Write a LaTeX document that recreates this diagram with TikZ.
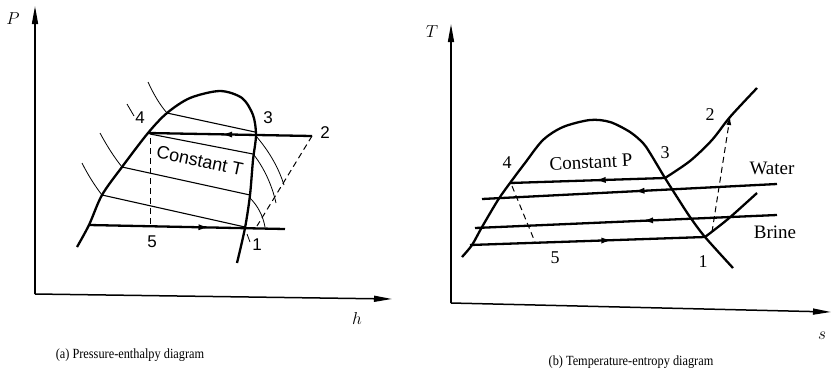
\documentclass[tikz,border=0pt]{standalone}
\usepackage{fontspec}
\setmainfont{Liberation Serif}
\newfontfamily\lsans{Liberation Sans}
\usetikzlibrary{arrows.meta,decorations.markings}
\begin{document}
\begin{tikzpicture}[x=1pt,y=-1pt,
  heavy/.style={line width=2.3pt},
  iso/.style={line width=1.1pt},
  fine/.style={line width=0.8pt},
  axisline/.style={line width=1.5pt,-{Triangle[length=18pt,width=6pt]}},
  dashln/.style={line width=1pt,dash pattern=on 6pt off 4pt},
  midarrow/.style={postaction={decorate},decoration={markings,mark=at position #1 with {\arrow{Latex[length=12pt,width=6pt]}}}},
  lbl/.style={font=\fontsize{18}{18}\selectfont,inner sep=0pt},
  captxt/.style={font=\fontsize{14}{15}\selectfont,inner sep=0pt,xscale=0.88,transform shape}]
\useasboundingbox (0,0) rectangle (833,384);

% ---------------- (a) P-h diagram ----------------
\coordinate (LO) at (35,294);
\coordinate (LP) at (35,6);
\coordinate (LH) at (392,299);
\draw[axisline] (LO) -- (LP);
\draw[axisline] (LO) -- (LH);
\node[lbl] (Plab) at (13,19) {$P$};
\node[lbl] (hlab) at (357,318) {$h$};

\coordinate (L4) at (148,133);
\coordinate (L3) at (256,135);
\coordinate (L2) at (312,136);
\coordinate (L1) at (245,228);
\coordinate (L5s) at (89,225);
\coordinate (L1e) at (285,229);

% dome
\draw[heavy] plot[smooth] coordinates {(77,247)(89,225)(102,195)(122,167)(148,133)(167,113)(190,98)(220,91)(242,98)(253,115)(256,135)(253,160)(250,195)(245,228)(237,263)};

% cycle lines
\draw[heavy,midarrow=0.56] (L2) -- (L4);
\draw[heavy,midarrow=0.62] (L5s) -- (L1e);

% isotherm straight parts
\draw[iso] (167,113) -- (255,132);
\draw[iso] (150,134) -- (253,154);
\draw[iso] (122,167) -- (250,195);
\draw[iso] (102,195) -- (245,227);
% isotherm liquid parts
\draw[fine] (148,82) .. controls (154,95) and (160,105) .. (167,113);
\draw[fine] (127,104) -- (134,116);
\draw[fine] (100,133) .. controls (107,146) and (114,157) .. (122,167);
\draw[fine] (82,163) .. controls (88,175) and (95,186) .. (102,195);
% isotherm superheated parts
\draw[fine] (256,136) .. controls (268,150) and (278,166) .. (284,185);
\draw[fine] (254,155) .. controls (264,168) and (272,185) .. (276,203);
\draw[fine] (250,198) .. controls (258,206) and (263,216) .. (265,227);
\draw[fine] (247,234) -- (250,242);

% dashed lines
\draw[dashln] (L2) -- (257,226);
\draw[dashln] (150,138) -- (150,226);

\node[lbl,font=\lsans\fontsize{17}{17}\selectfont] (n4a) at (140,118) {4};
\node[lbl,font=\lsans\fontsize{17}{17}\selectfont] (n3a) at (268,118) {3};
\node[lbl,font=\lsans\fontsize{17}{17}\selectfont] (n2a) at (325,133) {2};
\node[lbl,font=\lsans\fontsize{17}{17}\selectfont] (n5a) at (152,242) {5};
\node[lbl,font=\lsans\fontsize{17}{17}\selectfont] (n1a) at (257,245) {1};
\node[lbl,font=\lsans\fontsize{18}{18}\selectfont,rotate=-12] (ctT) at (200,161) {Constant T};

\node[captxt] (capa) at (130,355) {(a) Pressure-enthalpy diagram};

% ---------------- (b) T-s diagram ----------------
\coordinate (RO) at (451,303);
\coordinate (RT) at (451,24);
\coordinate (RS) at (831,312);
\draw[axisline] (RO) -- (RT);
\draw[axisline] (RO) -- (RS);
\node[lbl] (Tlab) at (432,32) {$T$};
\node[lbl] (slab) at (822,336) {$s$};

\coordinate (R4) at (510,183);
\coordinate (R3) at (665,178);
\coordinate (R1) at (705,237);
\coordinate (R2) at (730,117);

\draw[heavy] plot[smooth] coordinates {(462,257)(472,245)(482,227)(498,200)(510,183)(525,163)(543,140)(563,127)(590,120)(610,122)(630,132)(643,143)(650,153)(665,178)(677,197)(690,217)(705,237)(733,268)};
\draw[heavy] plot[smooth] coordinates {(665,178)(690,161)(712,140)(730,117)(757,88)};
\draw[heavy] plot[smooth] coordinates {(705,237)(728,219)(757,193)};

\draw[heavy,midarrow=0.46] (R3) -- (R4);
\draw[heavy,midarrow=0.49] (777,184) -- (482,199);
\draw[heavy,midarrow=0.45] (777,215) -- (475,228);
\draw[heavy,midarrow=0.61] (470,245) -- (R1);

\draw[dashln] (512,186) -- (535,242);
\draw[dashln,-{Latex[length=8pt,width=5pt]}] (712,232) -- (R2);

\node[lbl] (n4b) at (507,163) {4};
\node[lbl] (n3b) at (665,153) {3};
\node[lbl] (n2b) at (710,115) {2};
\node[lbl] (n5b) at (555,258) {5};
\node[lbl] (n1b) at (703,262) {1};
\node[lbl,font=\fontsize{19}{19}\selectfont,rotate=3] (ctP) at (591,162) {Constant P};
\node[lbl,font=\fontsize{19}{19}\selectfont] (water) at (772,168) {Water};
\node[lbl,font=\fontsize{19}{19}\selectfont] (brine) at (775,232) {Brine};

\node[captxt] (capb) at (631,362) {(b) Temperature-entropy diagram};
\end{tikzpicture}
\end{document}
